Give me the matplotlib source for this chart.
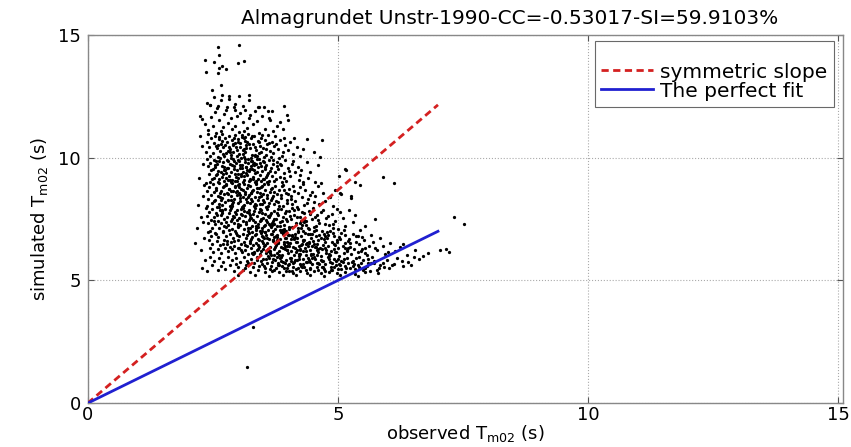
import matplotlib
matplotlib.use("Agg")
import matplotlib.pyplot as plt

plt.rcParams['font.family'] = ['DejaVu Sans']

# ---------------- data (observed Tm02, simulated Tm02) ----------------
pts_top = [(2.60,14.50),(3.03,14.57),(2.62,14.16),(2.34,13.98),(2.53,13.89),(3.00,13.86),(3.13,13.93),
           (2.69,13.75),(2.76,13.60),(2.62,13.65),(2.37,13.48),(2.60,13.44),(2.66,12.96),(2.49,12.76),
           (2.52,12.45),(2.68,12.56),(2.66,12.35),(2.82,12.49),(3.03,12.49),(3.23,12.56),(3.22,12.35),
           (3.93,12.10),(2.95,12.20),(2.45,12.15),(2.78,12.05),(3.10,12.12),(2.58,12.02),(3.40,12.08)]

pts_a = [(2.39,12.22),(2.44,12.15),(2.61,12.12),(2.83,12.40),(3.42,12.08),(3.52,12.06),(3.68,11.89),(2.24,11.71),
         (2.29,11.58),(2.46,11.67),(2.92,12.08),(2.95,11.94),(3.15,11.94),(3.05,11.81),(3.25,11.74),(3.62,11.63),
         (3.65,11.54),(3.98,11.74),(4.01,11.54),(2.55,11.85),(2.72,11.78),(2.86,11.62),(3.35,11.88),(3.48,11.70),
         (2.63,11.52),(2.80,11.40),(3.10,11.47),(3.30,11.35),(2.50,11.30),(2.94,11.28),(3.18,11.22),(3.55,11.18),
         (3.78,11.30),(2.41,11.12),(2.67,11.08),(2.88,11.15),(3.02,11.05),(3.42,11.02),(3.70,11.08),(3.90,11.15),
         (2.57,11.00),(2.76,11.92),(3.22,11.60),(2.98,11.70),(3.85,11.45),(2.35,11.35),(3.60,11.90),(3.12,11.10),
         (2.70,11.25),(3.38,11.48)]

pts_b = [(2.40,10.95),(2.55,10.90),(2.68,10.97),(2.82,10.88),(2.95,10.93),(3.08,10.85),(3.20,10.96),(3.33,10.90),
         (3.47,10.82),(3.60,10.94),(3.75,10.87),(3.92,10.80),(4.39,10.76),(4.69,10.72),(2.47,10.78),(2.62,10.74),
         (2.74,10.80),(2.88,10.70),(3.00,10.76),(3.14,10.68),(3.27,10.78),(3.40,10.66),(3.55,10.72),(3.68,10.64),
         (3.85,10.70),(4.05,10.62),(2.38,10.62),(2.52,10.58),(2.66,10.55),(2.79,10.62),(2.91,10.52),(3.04,10.58),
         (3.17,10.50),(3.31,10.57),(3.44,10.48),(3.58,10.54),(3.72,10.46),(3.95,10.52),(4.18,10.44),(2.43,10.42),
         (2.58,10.38),(2.71,10.45),(2.84,10.35),(2.97,10.42),(3.11,10.33),(3.24,10.40),(3.37,10.30),(3.50,10.38),
         (3.64,10.28),(3.80,10.36),(4.00,10.30),(4.53,10.22),(2.36,10.25),(2.50,10.20),(2.64,10.27),(2.77,10.18),
         (2.90,10.24),(3.02,10.15),(3.15,10.22),(3.29,10.12),(3.42,10.20),(3.56,10.10),(3.70,10.17),(3.88,10.08),
         (4.10,10.15),(4.64,10.04),(2.45,10.05),(2.60,10.02),(2.73,10.08),(2.86,10.00),(2.99,10.06),(3.12,10.03),
         (3.26,10.00),(3.39,10.07),(3.52,10.02),(3.66,10.04),(3.82,10.00),(4.25,10.05),(2.93,10.81),(3.05,10.45),
         (3.19,10.62),(2.80,10.28),(3.34,10.44),(3.09,10.92),(2.69,10.66),(3.46,10.25),(2.56,10.48),(3.23,10.55),
         (2.98,10.30),(3.62,10.60),(2.87,10.12),(3.13,10.78),(3.01,10.65),(3.35,10.05),(2.75,10.52),(3.57,10.35),
         (3.77,10.55),(4.30,10.35),(2.94,10.58),(3.16,10.38),(3.28,10.88),(2.63,10.85),(3.48,10.92),(3.10,10.15),
         (2.83,10.45),(4.12,10.78),(3.90,10.22)]

pts_c = [(2.38,9.95),(2.52,9.92),(2.65,9.97),(2.78,9.90),(2.90,9.95),(3.02,9.88),(3.14,9.94),(3.26,9.86),(3.38,9.93),
         (3.50,9.85),(3.63,9.91),(3.78,9.84),(3.95,9.90),(4.38,9.84),(2.44,9.80),(2.58,9.76),(2.71,9.82),(2.84,9.74),
         (2.96,9.80),(3.08,9.72),(3.20,9.78),(3.32,9.70),(3.45,9.77),(3.57,9.69),(3.70,9.75),(3.86,9.68),(4.08,9.74),
         (4.27,9.50),(2.40,9.64),(2.55,9.60),(2.68,9.66),(2.81,9.58),(2.93,9.64),(3.05,9.56),(3.17,9.62),(3.29,9.54),
         (3.41,9.61),(3.54,9.53),(3.66,9.59),(3.81,9.52),(4.00,9.58),(4.20,9.62),(5.14,9.53),(2.47,9.48),(2.61,9.44),
         (2.74,9.50),(2.87,9.42),(2.99,9.48),(3.11,9.40),(3.23,9.46),(3.35,9.38),(3.48,9.45),(3.60,9.37),(3.74,9.43),
         (3.92,9.36),(4.14,9.42),(5.17,9.50),(2.42,9.32),(2.57,9.28),(2.70,9.34),(2.83,9.26),(2.95,9.32),(3.07,9.24),
         (3.19,9.30),(3.31,9.22),(3.44,9.29),(3.56,9.21),(3.69,9.27),(3.84,9.20),(4.05,9.26),(4.41,9.17),(5.02,9.25),
         (5.90,9.23),(2.49,9.15),(2.63,9.12),(2.76,9.18),(2.89,9.10),(3.01,9.16),(3.13,9.08),(3.25,9.14),(3.37,9.06),
         (3.50,9.13),(3.62,9.05),(3.76,9.11),(3.96,9.04),(4.22,9.10),(4.54,9.02),(5.35,9.02),(2.45,9.02),(2.60,9.00),
         (2.73,9.05),(2.86,9.00),(2.98,9.03),(3.10,9.00),(3.22,9.04),(3.34,9.01),(3.47,9.06),(3.59,9.00),(3.72,9.03),
         (3.88,9.00),(4.30,9.02),(2.80,9.85),(2.92,9.52),(3.04,9.70),(3.16,9.36),(3.28,9.88),(3.40,9.15),(2.66,9.40),
         (2.54,9.70),(2.97,9.20),(3.09,9.58),(3.21,9.96),(3.33,9.48),(3.46,9.66),(3.58,9.30),(2.72,9.62),(2.85,9.08),
         (3.00,9.92),(3.12,9.25),(3.24,9.52),(3.36,9.74),(2.62,9.86),(2.77,9.36),(3.52,9.82),(3.65,9.46),(3.79,9.64),
         (3.93,9.16),(4.10,9.88),(4.45,9.40),(4.60,9.70),(2.88,9.68),(3.14,9.82),(3.42,9.95),(2.50,9.55),(3.30,9.12),
         (3.06,9.35),(2.94,9.06),(3.18,9.50),(3.55,9.60),(3.70,9.90),(4.02,9.45),(4.25,9.28),(2.69,9.22),(3.84,9.76),
         (3.26,9.65)]

pts_d = [(2.37,8.95),(2.50,8.92),(2.63,8.97),(2.76,8.90),(2.88,8.95),(3.00,8.88),(3.12,8.94),(3.24,8.86),(3.36,8.93),
         (3.48,8.85),(3.60,8.91),(3.74,8.84),(3.90,8.90),(4.10,8.86),(4.67,8.97),(6.12,8.96),(2.43,8.80),(2.57,8.76),
         (2.70,8.82),(2.83,8.74),(2.95,8.80),(3.07,8.72),(3.19,8.78),(3.31,8.70),(3.43,8.77),(3.55,8.69),(3.68,8.75),
         (3.83,8.68),(4.02,8.74),(4.35,8.70),(4.61,8.84),(5.44,8.89),(2.39,8.64),(2.53,8.60),(2.66,8.66),(2.79,8.58),
         (2.91,8.64),(3.03,8.56),(3.15,8.62),(3.27,8.54),(3.39,8.61),(3.51,8.53),(3.64,8.59),(3.78,8.52),(3.96,8.58),
         (4.20,8.55),(4.48,8.62),(5.04,8.56),(5.07,8.52),(2.46,8.48),(2.60,8.44),(2.73,8.50),(2.86,8.42),(2.98,8.48),
         (3.10,8.40),(3.22,8.46),(3.34,8.38),(3.46,8.45),(3.58,8.37),(3.71,8.43),(3.86,8.36),(4.06,8.42),(4.28,8.38),
         (4.55,8.45),(5.26,8.44),(5.27,8.36),(2.41,8.32),(2.55,8.28),(2.68,8.34),(2.81,8.26),(2.93,8.32),(3.05,8.24),
         (3.17,8.30),(3.29,8.22),(3.41,8.29),(3.53,8.21),(3.66,8.27),(3.80,8.20),(3.99,8.26),(4.15,8.22),(4.40,8.30),
         (4.75,8.25),(2.48,8.15),(2.62,8.12),(2.75,8.18),(2.88,8.10),(3.00,8.16),(3.12,8.08),(3.24,8.14),(3.36,8.06),
         (3.48,8.13),(3.60,8.05),(3.73,8.11),(3.90,8.04),(4.08,8.10),(4.32,8.06),(4.62,8.12),(4.90,8.02),(2.38,8.04),
         (2.58,8.00),(2.84,8.02),(3.08,8.00),(3.32,8.02),(3.56,8.00),(3.82,8.03),(4.18,8.00),(2.72,8.86),(2.97,8.62),
         (3.21,8.90),(3.45,8.57),(3.69,8.34),(3.93,8.70),(2.64,8.38),(2.90,8.18),(3.14,8.50),(3.38,8.78),(3.62,8.16),
         (3.86,8.46),(4.12,8.66),(2.80,8.52),(3.04,8.36),(3.28,8.64),(3.52,8.92),(3.76,8.24),(4.00,8.50),(4.24,8.80),
         (2.56,8.68),(3.18,8.18),(3.42,8.40),(3.66,8.72),(3.98,8.14),(4.44,8.48),(4.70,8.58),(2.94,8.84),(3.26,8.30),
         (3.58,8.48),(2.68,8.08),(3.10,8.70),(3.34,8.12),(4.30,8.92),(4.52,8.20),(4.84,8.40),(2.52,8.22),(3.02,8.92),
         (3.50,8.28),(3.88,8.86),(4.06,8.32),(2.86,8.66),(3.72,8.60),(4.38,8.14),(4.95,8.68)]

pts_e = [(2.36,7.96),(2.49,7.92),(2.62,7.97),(2.75,7.90),(2.87,7.95),(2.99,7.88),(3.11,7.94),(3.23,7.86),(3.35,7.93),
         (3.47,7.85),(3.59,7.91),(3.72,7.84),(3.86,7.90),(4.02,7.83),(4.20,7.89),(4.42,7.82),(4.70,7.88),(5.05,7.80),
         (2.42,7.80),(2.56,7.76),(2.69,7.82),(2.82,7.74),(2.94,7.80),(3.06,7.72),(3.18,7.78),(3.30,7.70),(3.42,7.77),
         (3.54,7.69),(3.66,7.75),(3.80,7.68),(3.95,7.74),(4.12,7.67),(4.32,7.73),(4.58,7.66),(4.88,7.72),(7.33,7.60),
         (2.39,7.64),(2.53,7.60),(2.66,7.66),(2.79,7.58),(2.91,7.64),(3.03,7.56),(3.15,7.62),(3.27,7.54),(3.39,7.61),
         (3.51,7.53),(3.63,7.59),(3.76,7.52),(3.90,7.58),(4.06,7.51),(4.25,7.57),(4.48,7.50),(4.76,7.56),(5.74,7.52),
         (2.46,7.48),(2.60,7.44),(2.73,7.50),(2.86,7.42),(2.98,7.48),(3.10,7.40),(3.22,7.46),(3.34,7.38),(3.46,7.45),
         (3.58,7.37),(3.70,7.43),(3.84,7.36),(3.99,7.42),(4.16,7.35),(4.36,7.41),(4.62,7.34),(4.94,7.40),(5.30,7.36),
         (7.52,7.30),(2.40,7.32),(2.54,7.28),(2.67,7.34),(2.80,7.26),(2.92,7.32),(3.04,7.24),(3.16,7.30),(3.28,7.22),
         (3.40,7.29),(3.52,7.21),(3.64,7.27),(3.78,7.20),(3.93,7.26),(4.09,7.19),(4.28,7.25),(4.52,7.18),(4.82,7.24),
         (5.15,7.20),(2.48,7.15),(2.62,7.12),(2.76,7.18),(2.89,7.10),(3.01,7.16),(3.13,7.08),(3.25,7.14),(3.37,7.06),
         (3.49,7.13),(3.61,7.05),(3.74,7.11),(3.88,7.04),(4.03,7.10),(4.21,7.03),(4.43,7.09),(4.68,7.02),(5.00,7.08),
         (5.45,7.04),(2.44,7.02),(2.70,7.00),(2.95,7.03),(3.20,7.00),(3.45,7.02),(3.70,7.00),(3.97,7.03),(4.30,7.00),
         (4.85,7.01),(2.85,7.88),(3.09,7.66),(3.33,7.84),(3.57,7.48),(3.81,7.92),(4.05,7.62),(4.29,7.80),(2.77,7.38),
         (3.01,7.20),(3.25,7.56),(3.49,7.74),(3.73,7.28),(3.97,7.52),(4.21,7.14),(4.45,7.70),(2.65,7.86),(2.93,7.58),
         (3.17,7.36),(3.41,7.16),(3.65,7.66),(3.89,7.44),(4.13,7.88),(4.37,7.26),(4.61,7.46),(2.58,7.68),(2.82,7.06),
         (3.06,7.90),(3.30,7.48),(3.54,7.26),(3.78,7.76),(4.02,7.18),(4.26,7.44),(4.50,7.96),(4.74,7.28),(2.72,7.22),
         (2.96,7.72),(3.20,7.12),(3.44,7.92),(3.68,7.34),(3.92,7.08),(4.18,7.60),(4.40,7.12),(4.66,7.78),(4.90,7.14),
         (5.10,7.54),(5.22,7.86),(2.52,7.40),(2.88,7.52),(3.12,7.84),(3.36,7.14),(3.60,7.62),(3.84,7.22),(4.08,7.94),
         (4.32,7.38),(4.56,7.04),(4.80,7.62),(5.35,7.68),(5.55,7.22),(2.68,7.74),(3.00,7.30),(3.24,7.68),(3.48,7.02),
         (3.72,7.50),(3.96,7.84),(4.24,7.32),(4.54,7.58),(4.98,7.92)]

pts_f = [(2.40,6.96),(2.55,6.92),(2.70,6.97),(2.84,6.90),(2.97,6.95),(3.10,6.88),(3.22,6.94),(3.34,6.86),(3.46,6.93),
         (3.57,6.85),(3.68,6.91),(3.79,6.84),(3.90,6.90),(4.02,6.83),(4.14,6.89),(4.27,6.82),(4.41,6.88),(4.56,6.81),
         (4.73,6.87),(4.92,6.80),(5.14,6.86),(5.40,6.82),
         (2.46,6.80),(2.61,6.76),(2.76,6.82),(2.90,6.74),(3.03,6.80),(3.16,6.72),(3.28,6.78),(3.40,6.70),(3.51,6.77),
         (3.62,6.69),(3.73,6.75),(3.84,6.68),(3.95,6.74),(4.07,6.67),(4.19,6.73),(4.32,6.66),(4.46,6.72),(4.61,6.65),
         (4.78,6.71),(4.98,6.64),(5.22,6.70),(5.52,6.66),(5.85,6.72),
         (2.42,6.64),(2.58,6.60),(2.73,6.66),(2.87,6.58),(3.00,6.64),(3.13,6.56),(3.25,6.62),(3.37,6.54),(3.48,6.61),
         (3.59,6.53),(3.70,6.59),(3.81,6.52),(3.92,6.58),(4.04,6.51),(4.16,6.57),(4.29,6.50),(4.43,6.56),(4.58,6.49),
         (4.74,6.55),(4.93,6.48),(5.15,6.54),(5.42,6.50),(5.70,6.58),(6.05,6.52),
         (2.49,6.48),(2.64,6.44),(2.79,6.50),(2.93,6.42),(3.06,6.48),(3.19,6.40),(3.31,6.46),(3.43,6.38),(3.54,6.45),
         (3.65,6.37),(3.76,6.43),(3.87,6.36),(3.98,6.42),(4.10,6.35),(4.22,6.41),(4.35,6.34),(4.49,6.40),(4.64,6.33),
         (4.81,6.39),(5.01,6.32),(5.25,6.38),(5.55,6.34),(5.90,6.40),(6.25,6.36),
         (2.44,6.32),(2.60,6.28),(2.75,6.34),(2.89,6.26),(3.02,6.32),(3.15,6.24),(3.27,6.30),(3.39,6.22),(3.50,6.29),
         (3.61,6.21),(3.72,6.27),(3.83,6.20),(3.94,6.26),(4.06,6.19),(4.18,6.25),(4.31,6.18),(4.45,6.24),(4.60,6.17),
         (4.76,6.23),(4.95,6.16),(5.18,6.22),(5.46,6.18),(5.78,6.24),(6.15,6.20),(6.55,6.25),(7.05,6.24),(7.16,6.27),
         (7.22,6.17),
         (2.50,6.15),(2.66,6.12),(2.81,6.18),(2.95,6.10),(3.08,6.16),(3.21,6.08),(3.33,6.14),(3.45,6.06),(3.56,6.13),
         (3.67,6.05),(3.78,6.11),(3.89,6.04),(4.00,6.10),(4.12,6.03),(4.24,6.09),(4.37,6.02),(4.51,6.08),(4.66,6.01),
         (4.83,6.07),(5.03,6.00),(5.27,6.06),(5.58,6.02),(5.95,6.08),(6.38,6.04),(6.80,6.10),
         (3.36,6.88),(3.58,6.72),(3.80,6.56),(4.02,6.40),(4.24,6.24),(4.46,6.08),(3.48,6.82),(3.70,6.66),(3.92,6.50),
         (4.14,6.34),(4.36,6.18),(4.58,6.02),(3.26,6.70),(3.50,6.54),(3.74,6.38),(3.98,6.22),(4.22,6.06),(4.44,6.90),
         (4.66,6.74),(4.88,6.58),(5.10,6.42),(5.32,6.26),(5.54,6.10),(3.14,6.44),(3.40,6.28),(3.64,6.12),(3.86,6.96),
         (4.08,6.80),(4.30,6.64),(4.52,6.48),(4.74,6.32),(4.96,6.16),(2.92,6.60),(3.18,6.84),(3.42,6.66),(3.66,6.90),
         (3.90,6.30),(4.12,6.68),(4.34,6.92),(4.56,6.36),(4.80,6.84),(5.04,6.70),(5.30,6.90),(2.84,6.38),(3.06,6.22),
         (3.30,6.06),(3.54,6.96),(3.78,6.64),(4.00,6.86),(4.26,6.46),(4.50,6.62),(4.70,6.44),(4.92,6.28),(5.12,6.12),
         (5.36,6.56),(5.62,6.40),(2.70,6.48),(2.98,6.86),(3.24,6.52),(3.46,6.20),(3.72,6.04),(3.96,6.72),(4.18,6.56),
         (4.40,6.40),(4.62,6.86),(4.86,6.20),(5.06,6.94),(5.20,6.60),(5.48,6.76),(5.75,6.30),(6.00,6.16),(2.56,6.90),
         (2.78,6.62),(3.00,6.30),(3.28,6.10),(3.52,6.40),(3.76,6.80),(3.98,6.58),(4.20,6.96),(4.42,6.54),(4.68,6.26),
         (4.90,6.94),(5.14,6.30),(5.40,6.14),(5.66,6.86),(6.30,6.48)]

pts_g = [(2.45,5.96),(2.62,5.92),(2.80,5.97),(2.96,5.90),(3.12,5.95),(3.26,5.88),(3.39,5.94),(3.51,5.86),(3.63,5.93),
         (3.74,5.85),(3.85,5.91),(3.96,5.84),(4.07,5.90),(4.18,5.83),(4.30,5.89),(4.42,5.82),(4.55,5.88),(4.68,5.81),
         (4.82,5.87),(4.97,5.80),(5.13,5.86),(5.30,5.79),(5.50,5.85),(5.72,5.78),(5.98,5.84),(6.28,5.80),(6.62,5.86),
         (2.52,5.80),(2.70,5.76),(2.88,5.82),(3.04,5.74),(3.19,5.80),(3.33,5.72),(3.46,5.78),(3.58,5.70),(3.69,5.77),
         (3.80,5.69),(3.91,5.75),(4.02,5.68),(4.13,5.74),(4.24,5.67),(4.36,5.73),(4.48,5.66),(4.61,5.72),(4.75,5.65),
         (4.89,5.71),(5.04,5.64),(5.21,5.70),(5.40,5.63),(5.61,5.69),(5.85,5.62),(6.12,5.68),(6.46,5.63),
         (2.48,5.62),(2.66,5.58),(2.85,5.64),(3.01,5.56),(3.16,5.62),(3.30,5.54),(3.43,5.60),(3.55,5.52),(3.66,5.59),
         (3.77,5.51),(3.88,5.57),(3.99,5.50),(4.10,5.56),(4.21,5.49),(4.33,5.55),(4.45,5.48),(4.58,5.54),(4.72,5.47),
         (4.86,5.53),(5.01,5.46),(5.17,5.52),(5.35,5.45),(5.55,5.51),(5.78,5.44),(6.02,5.52),(6.30,5.58),
         (2.39,5.40),(2.60,5.42),(2.92,5.38),(3.10,5.44),(3.25,5.36),(3.40,5.42),(3.54,5.34),(3.68,5.40),(3.82,5.33),
         (3.96,5.39),(4.10,5.32),(4.24,5.38),(4.38,5.31),(4.52,5.37),(4.67,5.30),(4.82,5.36),(4.98,5.29),(5.15,5.35),
         (5.34,5.28),(5.55,5.36),(5.80,5.32),
         (3.00,5.24),(3.35,5.22),(3.62,5.20),(3.90,5.24),(4.16,5.21),(4.44,5.23),(4.72,5.19),(5.05,5.22),(5.40,5.20),
         (3.60,5.98),(3.82,5.64),(4.04,5.92),(4.26,5.58),(4.48,5.90),(4.70,5.56),(4.92,5.88),(5.14,5.60),(5.36,5.90),
         (5.58,5.58),(3.72,5.44),(3.94,5.72),(4.16,5.46),(4.38,5.76),(4.60,5.42),(4.84,5.74),(5.06,5.48),(5.28,5.76),
         (5.50,5.42),(5.72,5.70),(3.48,5.66),(3.70,5.88),(3.92,5.52),(4.14,5.82),(4.36,5.44),(4.58,5.70),(4.80,5.96),
         (5.02,5.68),(5.24,5.50),(5.46,5.72),(5.68,5.94),(5.92,5.56),(3.38,5.84),(3.64,5.46),(3.86,5.78),(4.08,5.40),
         (4.30,5.66),(4.52,5.94),(4.74,5.38),(4.96,5.62),(5.18,5.92),(5.42,5.54),(5.64,5.40),(5.90,5.72),(6.18,5.92),
         (6.40,5.74),(3.20,5.70),(3.52,5.58),(3.78,5.96),(4.00,5.62),(4.22,5.86),(4.44,5.52),(4.66,5.84),(4.88,5.44),
         (5.10,5.74),(5.32,5.66),(5.60,5.86),(5.82,5.50),(6.08,5.64),(2.74,5.48),(2.96,5.68),(3.14,5.50),(6.52,5.96),
         (6.70,6.00)]

pts_core = [(3.44,7.42),(3.67,7.18),(3.91,6.94),(4.13,6.71),(4.37,6.47),(4.59,6.23),(4.83,5.99),(3.55,6.99),
            (3.79,6.75),(4.01,6.51),(4.25,6.27),(4.47,6.03),(4.71,5.79),(4.93,5.55),(3.63,7.31),(3.85,7.07),
            (4.09,6.83),(4.31,6.59),(4.55,6.35),(4.77,6.11),(5.01,5.87),(3.71,6.63),(3.95,6.39),(4.17,6.15),
            (4.41,5.91),(4.63,5.67),(4.87,5.43),(3.37,7.23),(3.61,6.27),(3.83,6.03),(4.07,5.79),(4.29,5.55),
            (4.53,7.03),(4.75,6.79),(4.99,6.55),(5.21,6.31),(3.29,6.97),(3.53,6.73),(3.77,6.49),(3.99,6.25),
            (4.23,6.01),(4.45,5.77),(4.69,5.53),(4.91,7.29),(5.13,7.05),(5.37,6.81),(3.41,6.43),(3.65,6.19),
            (3.87,5.95),(4.11,5.71),(4.33,7.47),(4.57,7.23),(4.79,6.99),(5.03,6.75),(5.25,6.51),(5.49,6.27),
            (3.23,7.73),(3.47,7.49),(3.69,7.25),(3.93,7.01),(4.15,6.77),(4.39,6.53),(4.61,6.29),(4.85,6.05),
            (5.07,5.81),(5.31,5.57),(3.33,6.11),(3.57,5.87),(3.81,5.63),(4.03,5.39),(4.27,7.15),(4.49,6.91),
            (4.73,6.67),(4.95,6.43),(5.19,6.19),(5.43,5.95),(5.67,5.71)]

pts_upper = [(2.71,10.13),(2.93,9.87),(3.17,9.61),(2.59,9.33),(2.81,9.07),(3.03,8.81),(3.27,8.55),(2.67,8.29),
             (2.89,8.03),(3.13,10.37),(3.35,10.11),(2.57,9.85),(2.79,9.59),(3.01,9.33),(3.25,9.07),(3.47,8.81),
             (2.65,8.55),(2.87,8.29),(3.11,8.03),(3.33,9.77),(2.61,10.51),(2.85,10.25),(3.07,9.99),(3.31,9.73),
             (2.53,9.17),(2.77,8.91),(2.99,8.65),(3.21,8.39),(3.45,8.13),(2.69,7.87),(3.39,9.41),(3.53,9.15),
             (3.15,10.83),(2.91,10.57),(3.43,10.65),(2.73,9.49),(3.37,8.97),(3.05,8.47),(2.83,8.71),(3.19,8.21)]

pts_edge = [(2.28,10.46),(2.31,9.74),(2.22,9.18),(2.30,8.42),(2.26,7.58),(2.18,7.12),(2.32,6.71),(2.27,6.24),
            (2.35,5.83),(2.29,5.52),(2.24,10.88),(2.33,8.88),(2.20,8.06),(2.31,7.36),(2.15,6.52)]

pts_low = [(3.18,1.47),(3.30,3.10)]

sym_x = [0, 7]
sym_y = [0, 12.15]
fit_x = [0, 7]
fit_y = [0, 7]

title = "Almagrundet Unstr-1990-CC=-0.53017-SI=59.9103%"
ticks = [0, 5, 10, 15]

# ---------------- plot ----------------
all_pts = (pts_top + pts_a + pts_b + pts_c + pts_d + pts_e + pts_f + pts_g +
           pts_core + pts_upper + pts_edge + pts_low)
obs = [p[0] for p in all_pts]
sim = [p[1] for p in all_pts]

fig = plt.figure(figsize=(8.51, 4.47), dpi=100)
ax = fig.add_axes([0.103, 0.098, 0.888, 0.824])

ax.scatter(obs, sim, s=5.5, c='black', marker='o', linewidths=0, zorder=2)
ax.plot(sym_x, sym_y, '--', color='#d42020', lw=2.0, dashes=(2.6, 1.6), label='symmetric slope', zorder=3)
ax.plot(fit_x, fit_y, '-', color='#2020d0', lw=2.0, label='The perfect fit', zorder=3)

ax.set_xlim(0, 15.1)
ax.set_ylim(0, 15)
ax.set_xticks(ticks)
ax.set_yticks(ticks)
ax.tick_params(direction='in', top=True, right=True, length=4, labelsize=13, color='#555555')
ax.tick_params(axis='x', pad=2)
ax.tick_params(axis='y', pad=5)
ax.grid(True, linestyle=':', color='#aaaaaa', linewidth=0.8)
for s in ax.spines.values():
    s.set_color('#888888')
    s.set_linewidth(1.0)

ax.set_title(title, fontsize=14.5, pad=8, x=0.559)
ax.set_xlabel(r'observed T$_{\rm m02}$ (s)', fontsize=13, labelpad=-1)
ax.set_ylabel(r'simulated T$_{\rm m02}$ (s)', fontsize=13, labelpad=6)

leg = ax.legend(loc='upper right', bbox_to_anchor=(0.987, 0.982), fontsize=14.5, title=' ',
                title_fontsize=11, frameon=True, fancybox=False, edgecolor='#444444',
                handlelength=2.6, handletextpad=0.35, borderpad=0.3, labelspacing=0.0,
                borderaxespad=0.0)
leg.get_frame().set_linewidth(0.8)

fig.savefig('out.png', dpi=100)
